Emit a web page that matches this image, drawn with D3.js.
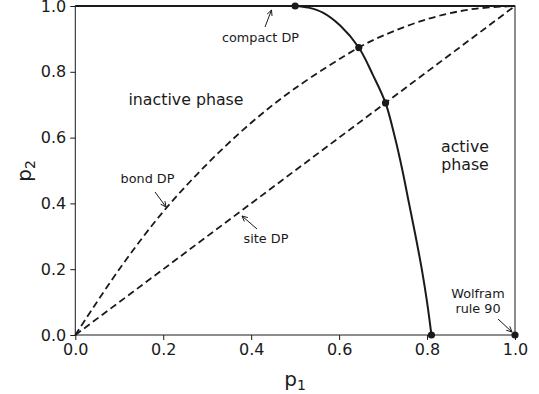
<!DOCTYPE html>
<html>
<head>
<meta charset="utf-8">
<script src="https://cdn.jsdelivr.net/npm/d3@7"></script>
<style>
  html, body { margin: 0; padding: 0; background: #fff; }
  svg { display: block; font-family: "DejaVu Sans", sans-serif; }
</style>
</head>
<body>
<svg id="chart" width="539" height="394"></svg>
<script>
// Domany–Kinzel phase diagram in the (p1, p2) plane
const tickValues = [0.0, 0.2, 0.4, 0.6, 0.8, 1.0];

// critical line separating inactive and active phases
const criticalP1 = [0.5, 0.53, 0.563, 0.603, 0.6447, 0.677, 0.7055, 0.727, 0.744, 0.759, 0.774, 0.788, 0.80, 0.81];
const criticalP2 = [1.0, 0.995, 0.98, 0.94, 0.8737, 0.79, 0.7055, 0.6, 0.5, 0.4, 0.3, 0.2, 0.1, 0.0];

// bond directed percolation line
const bondP1 = [0.0, 0.1, 0.2, 0.3, 0.4, 0.5, 0.6447, 0.7, 0.8, 0.9, 1.0];
const bondP2 = [0.0, 0.2, 0.375, 0.52, 0.645, 0.75, 0.8737, 0.91, 0.96, 0.99, 1.0];

// site directed percolation line
const siteP1 = [0.0, 1.0];
const siteP2 = [0.0, 1.0];

// compact DP line along the top edge
const compactP1 = [0.0, 1.0];
const compactP2 = [1.0, 1.0];

// marked special points
const specialP1 = [0.5, 0.6447, 0.7055, 0.81, 1.0];
const specialP2 = [1.0, 0.8737, 0.7055, 0.0, 0.0];

const svg = d3.select("#chart");
const x = d3.scaleLinear().domain([0, 1]).range([75.3, 515]);
const y = d3.scaleLinear().domain([0, 1]).range([335, 6]);
const ink = "#1a1a1a";

// axes
const xAxis = d3.axisBottom(x).tickValues(tickValues).tickFormat(d3.format(".1f")).tickSize(5).tickPadding(4);
const yAxis = d3.axisLeft(y).tickValues(tickValues).tickFormat(d3.format(".1f")).tickSize(5).tickPadding(4);

const gx = svg.append("g").attr("transform", `translate(0,${y(0)})`).call(xAxis);
const gy = svg.append("g").attr("transform", `translate(${x(0)},0)`).call(yAxis);
[gx, gy].forEach(g => {
  g.select(".domain").remove();
  g.selectAll("line").attr("stroke", ink).attr("stroke-width", 1);
  g.selectAll("text").attr("fill", ink).style("font-size", "16px").style("font-family", "DejaVu Sans");
});

// frame
svg.append("rect")
  .attr("x", x(0)).attr("y", y(1))
  .attr("width", x(1) - x(0)).attr("height", y(0) - y(1))
  .attr("fill", "none").attr("stroke", ink).attr("stroke-width", 1);

const zip = (a, b) => a.map((v, i) => [v, b[i]]);
const straight = d3.line().x(d => x(d[0])).y(d => y(d[1]));
const smooth = d3.line().x(d => x(d[0])).y(d => y(d[1])).curve(d3.curveCatmullRom);

// dashed site and bond lines
svg.append("path").datum(zip(siteP1, siteP2))
  .attr("d", straight).attr("fill", "none").attr("stroke", ink)
  .attr("stroke-width", 1.8).attr("stroke-dasharray", "7,4");
svg.append("path").datum(zip(bondP1, bondP2))
  .attr("d", smooth).attr("fill", "none").attr("stroke", ink)
  .attr("stroke-width", 1.8).attr("stroke-dasharray", "7,4");

// compact DP edge
svg.append("path").datum(zip(compactP1, compactP2))
  .attr("d", straight).attr("fill", "none")
  .attr("stroke", ink).attr("stroke-width", 2);

// critical line
svg.append("path").datum(zip(criticalP1, criticalP2))
  .attr("d", smooth)
  .attr("fill", "none").attr("stroke", ink).attr("stroke-width", 2);

// special points
svg.selectAll("circle.pt").data(zip(specialP1, specialP2)).join("circle")
  .attr("class", "pt").attr("cx", d => x(d[0])).attr("cy", d => y(d[1]))
  .attr("r", 3.6).attr("fill", ink);

// text labels
function label(txt, cx, cy, size) {
  svg.append("text").attr("x", cx).attr("y", cy).attr("text-anchor", "middle")
    .attr("fill", ink).style("font-size", size + "px").text(txt);
}
label("inactive phase", 186, 105, 15.8);
label("active", 465, 152, 15.8);
label("phase", 465, 170, 15.8);
label("compact DP", 260.5, 42, 12.8);
label("bond DP", 147.5, 183, 12.8);
label("site DP", 266, 243, 12.8);
label("Wolfram", 478, 298, 12.8);
label("rule 90", 478, 313, 12.8);

// annotation arrows with open heads
function arrow(x1, y1, x2, y2) {
  const a = Math.atan2(y2 - y1, x2 - x1), h = 6, w = 0.45;
  const p = d3.path();
  p.moveTo(x1, y1); p.lineTo(x2, y2);
  p.moveTo(x2 - h * Math.cos(a - w), y2 - h * Math.sin(a - w));
  p.lineTo(x2, y2);
  p.lineTo(x2 - h * Math.cos(a + w), y2 - h * Math.sin(a + w));
  svg.append("path").attr("d", p.toString()).attr("fill", "none")
    .attr("stroke", ink).attr("stroke-width", 1);
}
arrow(265, 27, 271.5, 10);
arrow(155, 192, 166, 207);
arrow(257, 229, 242, 216);
arrow(498, 319, 512, 332);

// axis titles with subscripts
const xt = svg.append("text").attr("x", 295).attr("y", 386).attr("text-anchor", "middle")
  .attr("fill", ink).style("font-size", "20px");
xt.append("tspan").text("p");
xt.append("tspan").attr("dy", 4).style("font-size", "14px").text("1");

const yt = svg.append("text").attr("transform", "translate(31,171) rotate(-90)")
  .attr("text-anchor", "middle").attr("fill", ink).style("font-size", "20px");
yt.append("tspan").text("p");
yt.append("tspan").attr("dy", 4).style("font-size", "14px").text("2");
</script>
</body>
</html>
